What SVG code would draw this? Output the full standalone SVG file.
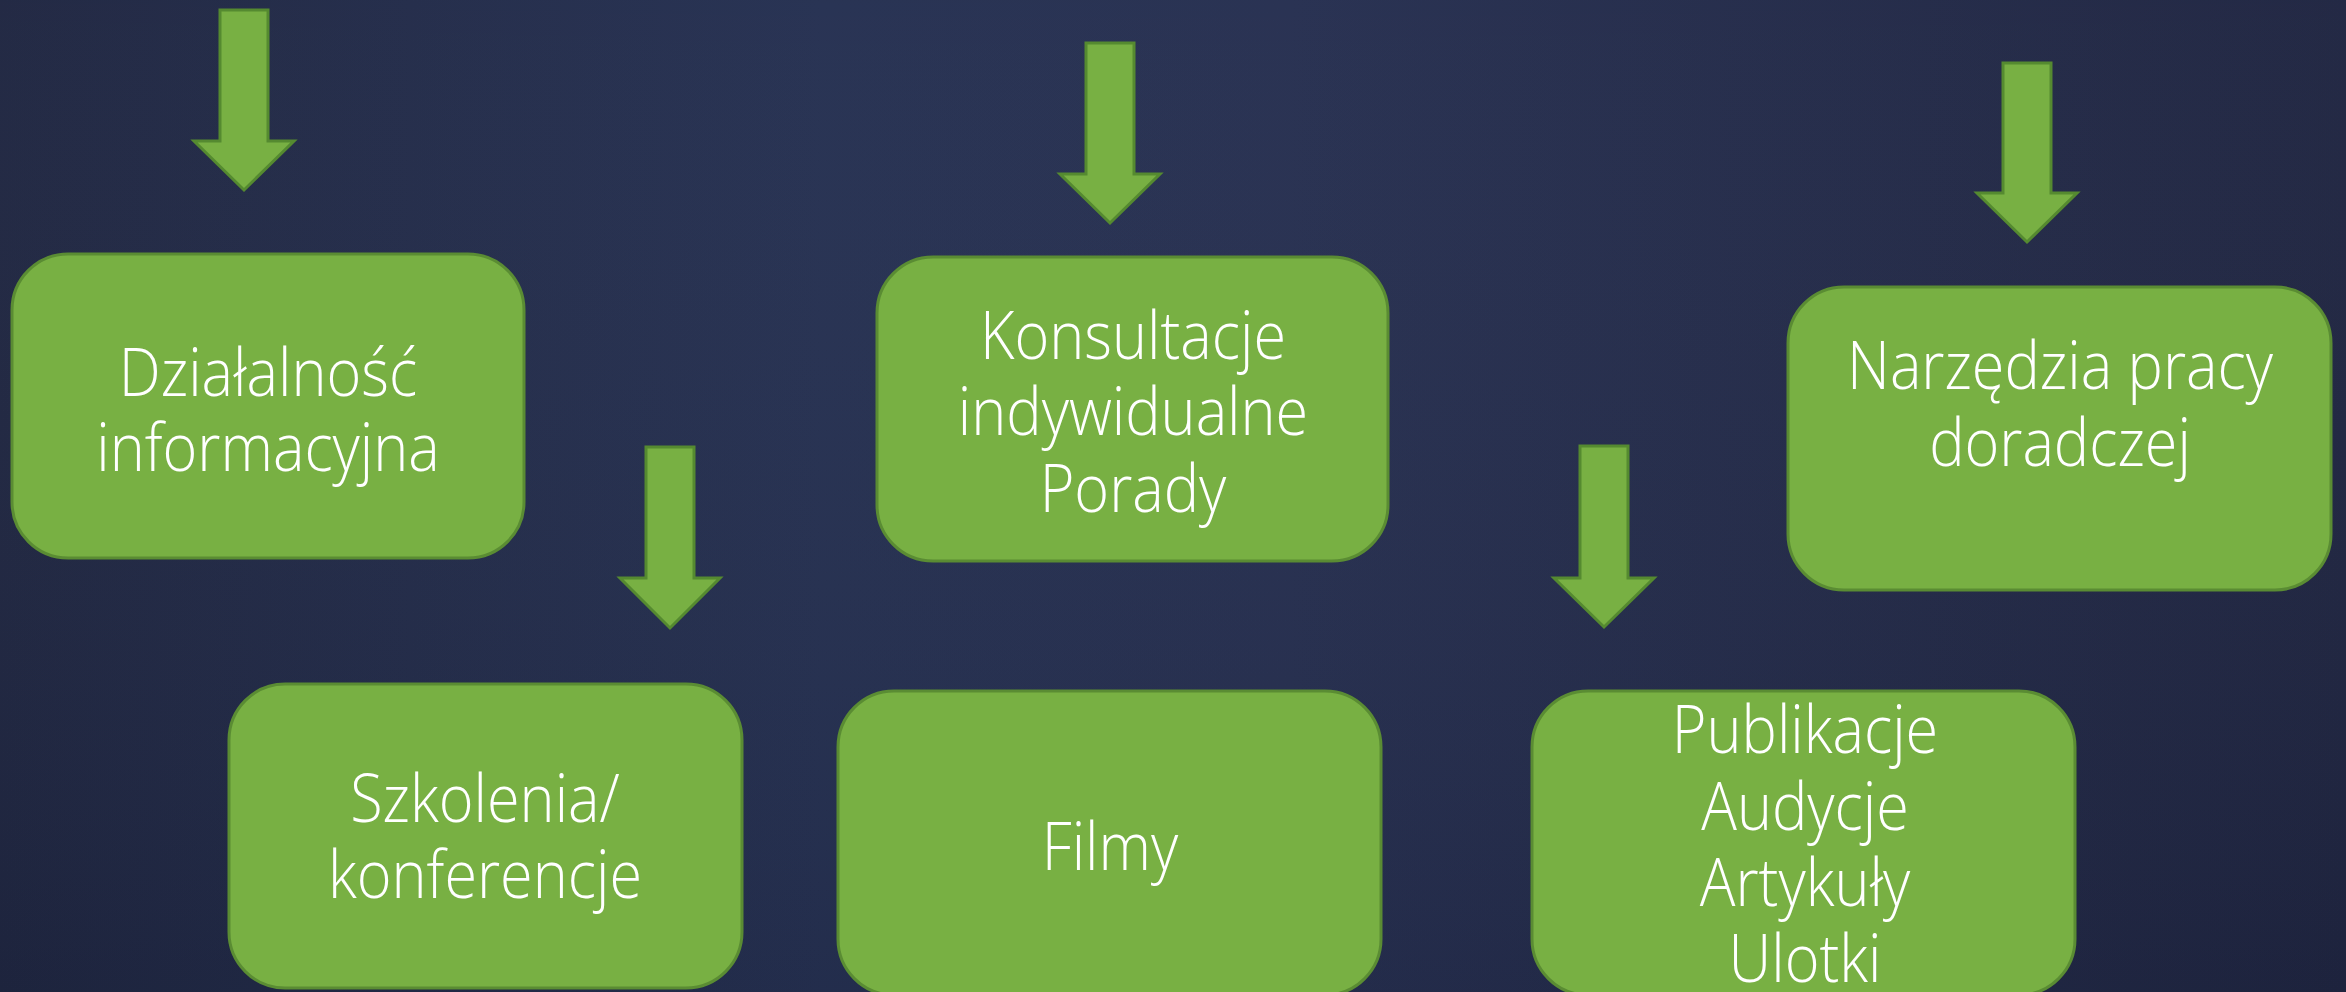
<svg xmlns="http://www.w3.org/2000/svg" width="2346" height="992" viewBox="0 0 2346 992">
<defs>
<linearGradient id="bg" x1="0" y1="0" x2="1" y2="0">
<stop offset="0" stop-color="#1f2641"/>
<stop offset="0.35" stop-color="#253051"/>
<stop offset="0.55" stop-color="#262f50"/>
<stop offset="1" stop-color="#1f2541"/>
</linearGradient>
<linearGradient id="bgv" x1="0" y1="0" x2="0" y2="1">
<stop offset="0" stop-color="#ffffff" stop-opacity="0.02"/>
<stop offset="1" stop-color="#000000" stop-opacity="0.06"/>
</linearGradient>
</defs>
<style>
.box{fill:#78b043;stroke:#5a8c33;stroke-width:3}
.arr{fill:#78b043;stroke:#558a30;stroke-width:3;stroke-linejoin:miter}
.lbl{font-family:"Open Sans","Noto Sans","Liberation Sans",sans-serif;font-weight:300;font-size:66px;fill:#ffffff;text-anchor:middle}
</style>
<rect x="0" y="0" width="2346" height="992" fill="url(#bg)"/>
<rect x="0" y="0" width="2346" height="992" fill="url(#bgv)"/>
<g id="connectors">
<polygon class="arr" points="220,10 268,10 268,141 294,141 244,190 194,141 220,141"/>
<polygon class="arr" points="1086,43 1134,43 1134,174 1160,174 1110,223 1060,174 1086,174"/>
<polygon class="arr" points="2003,63 2051,63 2051,193 2077,193 2027,242 1977,193 2003,193"/>
<polygon class="arr" points="646,447 694,447 694,578 720,578 670,628 620,578 646,578"/>
<polygon class="arr" points="1580,446 1628,446 1628,578 1654,578 1604,627 1554,578 1580,578"/>
</g>
<g id="n1">
<rect class="box" x="12" y="254" width="512" height="304" rx="56" ry="56"/>
<g transform="translate(268 0) scale(0.9 1)">
<text class="lbl" x="0" y="396">Działalność</text>
<text class="lbl" x="0" y="471">informacyjna</text>
</g>
</g>
<g id="n2">
<rect class="box" x="877" y="257" width="511" height="304" rx="56" ry="56"/>
<g transform="translate(1133 0) scale(0.9 1)">
<text class="lbl" x="0" y="359">Konsultacje</text>
<text class="lbl" x="0" y="435">indywidualne</text>
<text class="lbl" x="0" y="512">Porady</text>
</g>
</g>
<g id="n3">
<rect class="box" x="1788" y="287" width="543" height="303" rx="56" ry="56"/>
<g transform="translate(2060 0) scale(0.9 1)">
<text class="lbl" x="0" y="389">Narzędzia pracy</text>
<text class="lbl" x="0" y="466">doradczej</text>
</g>
</g>
<g id="n4">
<rect class="box" x="229" y="684" width="513" height="304" rx="56" ry="56"/>
<g transform="translate(485 0) scale(0.9 1)">
<text class="lbl" x="0" y="822">Szkolenia/</text>
<text class="lbl" x="0" y="898">konferencje</text>
</g>
</g>
<g id="n5">
<rect class="box" x="838" y="691" width="543" height="304" rx="56" ry="56"/>
<g transform="translate(1110 0) scale(0.9 1)">
<text class="lbl" x="0" y="870">Filmy</text>
</g>
</g>
<g id="n6">
<rect class="box" x="1532" y="691" width="543" height="304" rx="56" ry="56"/>
<g transform="translate(1805 0) scale(0.9 1)">
<text class="lbl" x="0" y="753">Publikacje</text>
<text class="lbl" x="0" y="830">Audycje</text>
<text class="lbl" x="0" y="906">Artykuły</text>
<text class="lbl" x="0" y="982">Ulotki</text>
</g>
</g>
</svg>
